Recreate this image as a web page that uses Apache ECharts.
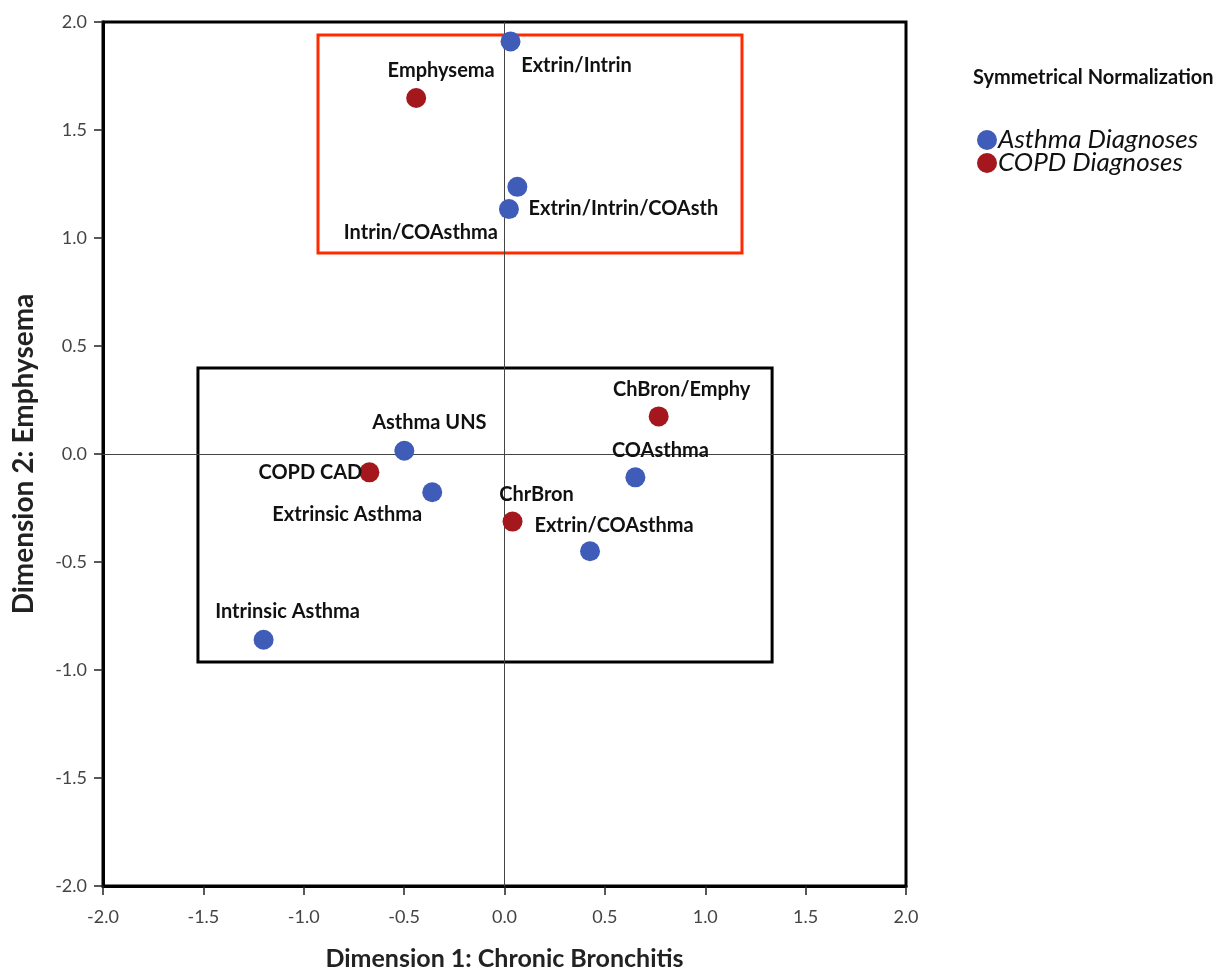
<!DOCTYPE html>
<html>
<head>
<meta charset="utf-8">
<script src="https://cdn.jsdelivr.net/npm/echarts@6/dist/echarts.min.js"></script>
<style>
  html, body { margin: 0; padding: 0; background: #fff; }
  #chart { width: 1230px; height: 970px; }
</style>
</head>
<body>
<div id="chart"></div>
<script>
// category points
var asthmaNames = ['Extrin/Intrin', 'Extrin/Intrin/COAsth', 'Intrin/COAsthma', 'Asthma UNS',
  'Extrinsic Asthma', 'COAsthma', 'Extrin/COAsthma', 'Intrinsic Asthma']
var asthmaX = [0.03, 0.064, 0.022, -0.499, -0.36, 0.652, 0.426, -1.2]
var asthmaY = [1.91, 1.237, 1.134, 0.015, -0.177, -0.108, -0.45, -0.86]

var copdNames = ['Emphysema', 'COPD CAD', 'ChrBron', 'ChBron/Emphy']
var copdX = [-0.44, -0.673, 0.04, 0.768]
var copdY = [1.648, -0.085, -0.313, 0.174]

// label placement around each marker (pixels, from marker centre)
var labelShift = {
  'Extrin/Intrin': [66, 24],
  'Extrin/Intrin/COAsth': [106, 22],
  'Intrin/COAsthma': [-88, 23],
  'Asthma UNS': [25, -28],
  'Extrinsic Asthma': [-85, 22],
  'COAsthma': [25, -27],
  'Extrin/COAsthma': [24, -26],
  'Intrinsic Asthma': [24, -28],
  'Emphysema': [25, -27],
  'COPD CAD': [-59, 0],
  'ChrBron': [24, -27],
  'ChBron/Emphy': [23, -27]
}

var blue = '#3F5CB9'
var red = '#A4171C'
var font = 'Lato'

function buildPoints (names, xs, ys) {
  return names.map(function (n, i) {
    return {
      name: n,
      value: [xs[i], ys[i]],
      label: { offset: labelShift[n] }
    }
  })
}

var chart = echarts.init(document.getElementById('chart'))

var pointLabel = {
  show: true,
  position: 'inside',
  formatter: '{b}',
  fontFamily: font,
  fontSize: 20,
  fontWeight: 'bold',
  color: '#111'
}

var axisCommon = {
  type: 'value',
  min: -2,
  max: 2,
  interval: 0.5,
  nameLocation: 'middle',
  axisLine: { show: true, onZero: false, lineStyle: { color: '#000', width: 3 } },
  axisTick: { show: true, length: 9, lineStyle: { color: '#222', width: 1.5 } },
  axisLabel: {
    fontFamily: font,
    fontSize: 18,
    color: '#444',
    formatter: function (v) { return v.toFixed(1) }
  },
  splitLine: { show: false }
}

var option = {
  animation: false,
  backgroundColor: '#fff',
  title: {
    text: 'Symmetrical Normalization',
    left: 968,
    top: 63,
    textStyle: { fontFamily: font, fontSize: 20, fontWeight: 'bold', color: '#111' }
  },
  legend: {
    orient: 'vertical',
    left: 972,
    top: 122,
    itemGap: -3,
    itemWidth: 20,
    itemHeight: 20,
    icon: 'circle',
    data: ['Asthma Diagnoses', 'COPD Diagnoses'],
    textStyle: {
      fontFamily: font,
      fontSize: 26,
      fontStyle: 'italic',
      color: '#111',
      padding: [0, 0, 0, -4]
    }
  },
  grid: {
    left: 103,
    top: 22,
    right: 324,
    bottom: 84,
    outerBoundsMode: 'none',
    show: true,
    borderColor: '#000',
    borderWidth: 3
  },
  xAxis: Object.assign({}, axisCommon, {
    name: 'Dimension 1: Chronic Bronchitis',
    nameGap: 60,
    nameTextStyle: { fontFamily: font, fontSize: 25, fontWeight: 'bold', color: '#222' },
    axisLabel: Object.assign({}, axisCommon.axisLabel, { margin: 22 })
  }),
  yAxis: Object.assign({}, axisCommon, {
    name: 'Dimension 2: Emphysema',
    nameGap: 65,
    nameTextStyle: { fontFamily: font, fontSize: 28, fontWeight: 'bold', color: '#222' },
    axisLabel: Object.assign({}, axisCommon.axisLabel, { margin: 16 })
  }),
  series: [
    {
      name: 'Asthma Diagnoses',
      type: 'scatter',
      symbolSize: 20,
      z: 5,
      itemStyle: { color: blue, opacity: 1 },
      label: pointLabel,
      data: buildPoints(asthmaNames, asthmaX, asthmaY),
      markLine: {
        silent: true,
        symbol: 'none',
        label: { show: false },
        lineStyle: { color: '#444', width: 1, type: 'solid' },
        data: [{ xAxis: 0 }, { yAxis: 0 }]
      },
      markArea: {
        silent: true,
        itemStyle: { color: 'rgba(0,0,0,0)', borderColor: '#000', borderWidth: 3 },
        data: [[{ coord: [-1.527, 0.398] }, { coord: [1.333, -0.963] }]]
      }
    },
    {
      name: 'COPD Diagnoses',
      type: 'scatter',
      symbolSize: 20,
      z: 5,
      itemStyle: { color: red, opacity: 1 },
      label: pointLabel,
      data: buildPoints(copdNames, copdX, copdY),
      markArea: {
        silent: true,
        itemStyle: { color: 'rgba(0,0,0,0)', borderColor: '#FF2A00', borderWidth: 3 },
        data: [[{ coord: [-0.929, 1.94] }, { coord: [1.183, 0.93] }]]
      }
    }
  ]
}

chart.setOption(option)
</script>
</body>
</html>
